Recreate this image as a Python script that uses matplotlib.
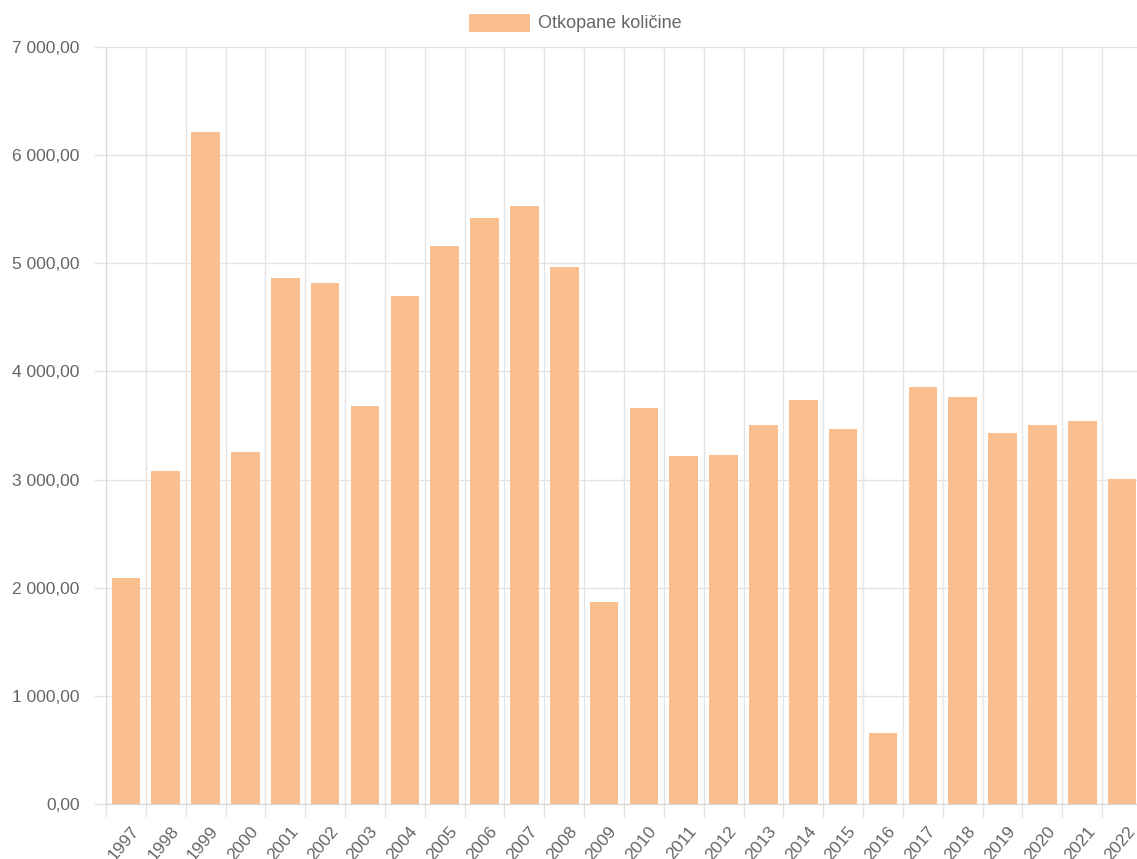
import matplotlib
matplotlib.use("Agg")
import matplotlib.pyplot as plt
from matplotlib.patches import Rectangle
from matplotlib.ticker import FuncFormatter, MultipleLocator
import matplotlib.transforms as mtransforms

years = [str(y) for y in range(1997, 2023)]
values = [2090, 3080, 6215, 3255, 4865, 4820, 3680, 4700, 5160, 5420,
          5530, 4965, 1868, 3662, 3220, 3228, 3505, 3736, 3468, 657,
          3856, 3764, 3432, 3505, 3542, 3005]
series_name = "Otkopane količine"

bar_color = "#f9bf8f"
grid_color = "#e4e4e4"
text_color = "#666666"

plt.rcParams['font.family'] = ['Liberation Sans', 'DejaVu Sans']

W, H = 1137, 859
fig = plt.figure(figsize=(W / 100, H / 100), dpi=100)
left, right, top, bottom = 106, 1142, 47, 804
ax = fig.add_axes([left / W, 1 - bottom / H, (right - left) / W, (bottom - top) / H])

x = list(range(len(years)))
ax.bar(x, values, width=0.72, color=bar_color, zorder=3)
ax.set_xlim(-0.5, len(years) - 0.5)
ax.set_ylim(0, 7000)

ax.yaxis.set_major_locator(MultipleLocator(1000))
def fmt(v, pos):
    s = f"{v:,.2f}"
    return s.replace(",", " ").replace(".", ",")
ax.yaxis.set_major_formatter(FuncFormatter(fmt))

ax.set_xticks([i - 0.5 for i in x] + [len(x) - 0.5], minor=False)
ax.set_xticklabels([])
ax.set_xticks(x, minor=True)
ax.set_xticklabels(years, minor=True, rotation=50, ha='right', va='top',
                   rotation_mode='anchor', color=text_color, fontsize=12.5)
ax.tick_params(axis='x', which='minor', length=0, pad=14)
ax.tick_params(axis='x', which='major', length=9, color=grid_color, width=1)
ax.tick_params(axis='y', length=9, color=grid_color, width=1, pad=10,
               labelcolor=text_color, labelsize=12.5)

offset = mtransforms.ScaledTranslation(3 / 72, 0 / 72, fig.dpi_scale_trans)
for lab in ax.get_xticklabels(minor=True):
    lab.set_transform(lab.get_transform() + offset)

ax.grid(True, axis='y', color=grid_color, linewidth=1, zorder=0)
ax.grid(True, axis='x', which='major', color=grid_color, linewidth=1, zorder=0)
for s in ['top', 'right']:
    ax.spines[s].set_visible(False)
for s in ['left', 'bottom']:
    ax.spines[s].set_color('#d6d6d6')

# legend
fig.patches.append(Rectangle((469 / W, 1 - 32 / H), 61 / W, 18 / H,
                             transform=fig.transFigure, facecolor=bar_color,
                             edgecolor='none'))
fig.text(538 / W, 1 - 23 / H, series_name, color=text_color, fontsize=13,
         va='center', ha='left')

fig.savefig("out.png", dpi=100)
